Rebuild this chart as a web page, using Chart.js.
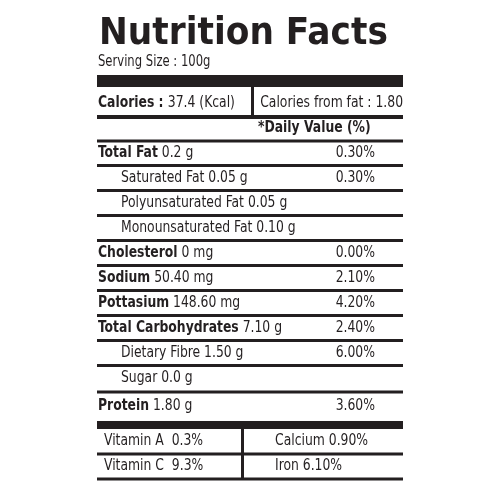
<!DOCTYPE html>
<html><head><meta charset="utf-8">
<script src="https://cdn.jsdelivr.net/npm/chart.js@4"></script>
<style>html,body{margin:0;padding:0;background:#fff}canvas{display:block}</style>
</head><body>
<canvas id="c" width="500" height="500"></canvas>
<script>
const title = "Nutrition Facts";
const serving = "Serving Size : 100g";
const calories = ["Calories : ", "37.4 (Kcal)"];
const caloriesFat = "Calories from fat : 1.80";
const dvHeader = "*Daily Value (%)";
const rowBold = ["Total Fat","","","","Cholesterol","Sodium","Pottasium","Total Carbohydrates","","","Protein"];
const rowText = [" 0.2 g","Saturated Fat 0.05 g","Polyunsaturated Fat 0.05 g","Monounsaturated Fat 0.10 g"," 0 mg"," 50.40 mg"," 148.60 mg"," 7.10 g","Dietary Fibre 1.50 g","Sugar 0.0 g"," 1.80 g"];
const rowIndent = [0,1,1,1,0,0,0,0,1,1,0];
const rowDV = ["0.30%","0.30%","","","0.00%","2.10%","4.20%","2.40%","6.00%","","3.60%"];
const vitLeft = ["Vitamin A  0.3%","Vitamin C  9.3%"];
const vitRight = ["Calcium 0.90%","Iron 6.10%"];

const F = "'DejaVu Sans Condensed','Liberation Sans Narrow',sans-serif";
const SX = 0.86;
const labelPlugin = {
  id:'label',
  afterDraw(chart){
    const ctx = chart.ctx, X = chart.scales.x, Y = chart.scales.y;
    const px = v=>X.getPixelForValue(v), py = v=>Y.getPixelForValue(v);
    const L=97,R=403;
    ctx.save();
    ctx.fillStyle='#231f20';
    ctx.textBaseline='middle';
    // draws condensed text, returns width in pixels
    const txt=(s,x,y,bold,size,align)=>{
      ctx.font=(bold?"bold ":"")+size+"px "+F;
      const w=ctx.measureText(s).width*SX;
      const x0 = align==='right'? x-w : x;
      ctx.save(); ctx.translate(x0,y); ctx.scale(SX,1); ctx.fillText(s,0,0); ctx.restore();
      return w;
    };
    const hline=(y,w)=>{ctx.fillRect(px(L),py(y)-w/2,px(R)-px(L),w);};
    ctx.font="bold 37px 'DejaVu Sans',sans-serif";
    ctx.save(); ctx.translate(px(99),py(34)); ctx.scale(0.93,1); ctx.fillText(title,0,0); ctx.restore();
    txt(serving,px(98),py(62),false,15);
    ctx.fillRect(px(L),py(75),px(R)-px(L),12);
    let w=txt(calories[0],px(98),py(103),true,16);
    txt(calories[1],px(98)+w,py(103),false,16);
    ctx.fillRect(px(251),py(87),3,py(117)-py(87));
    txt(caloriesFat,px(403),py(103),false,16,'right');
    hline(117,4);
    txt(dvHeader,px(258),py(128),true,16);
    hline(141,3);
    const yAt=i=> i<10 ? 153+i*25 : 406;
    rowText.forEach((t,i)=>{
      const y=yAt(i); let x=px(rowIndent[i]?121:98);
      if(rowBold[i]) x+=txt(rowBold[i],x,py(y),true,16);
      txt(t,x,py(y),false,16);
      if(rowDV[i]) txt(rowDV[i],px(375),py(y),false,16,'right');
      if(i<9) hline(y+12.5,3);
      if(i===9) hline(392,3);
    });
    ctx.fillRect(px(L),py(421),px(R)-px(L),8);
    vitLeft.forEach((t,i)=>{
      const y=441+i*25;
      txt(t,px(104),py(y),false,16);
      txt(vitRight[i],px(275),py(y),false,16);
      hline(y+13,3);
    });
    ctx.fillRect(px(241),py(428),3,py(480)-py(428));
    ctx.restore();
  }
};
new Chart(document.getElementById('c'),{
  type:'scatter',
  data:{datasets:[{data:[],pointRadius:0}]},
  options:{responsive:false,animation:false,events:[],
    layout:{padding:0},
    plugins:{legend:{display:false},tooltip:{enabled:false}},
    scales:{x:{type:'linear',min:0,max:500,display:false},
            y:{type:'linear',min:0,max:500,reverse:true,display:false}}},
  plugins:[labelPlugin]
});
</script>
</body></html>
